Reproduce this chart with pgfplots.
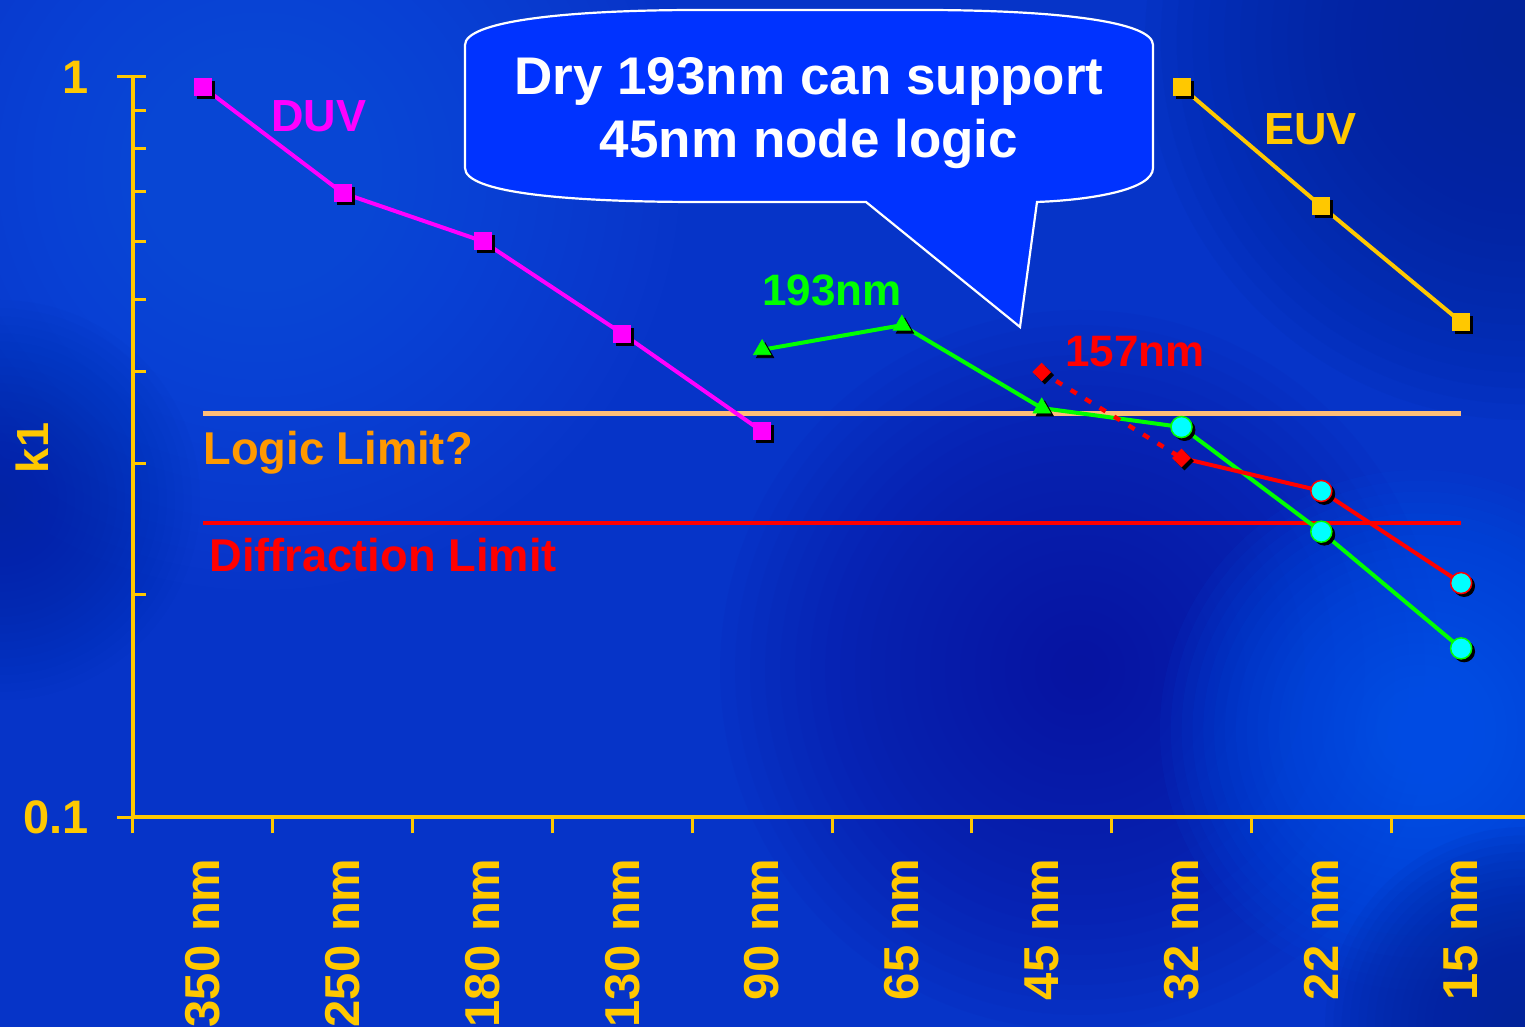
\documentclass[border=0pt]{standalone}
\usepackage{fontspec}
\setmainfont{Liberation Sans}
\usepackage{pgfplots}
\usepackage{pgfplotstable}
\pgfplotsset{compat=1.18}

\definecolor{gold}{HTML}{FFC800}
\definecolor{peach}{HTML}{FFBE78}
\definecolor{logicor}{HTML}{FF9900}
\definecolor{calloutblue}{HTML}{0033FF}
\definecolor{bgbase}{HTML}{0634C8}
\definecolor{bglight}{HTML}{1A58E6}
\definecolor{bgdark}{HTML}{0614A0}
\definecolor{bgbright}{HTML}{0058F0}
\definecolor{bgnavy}{HTML}{02239A}
\definecolor{mag}{HTML}{FF00FF}
\definecolor{grn}{HTML}{00FF00}
\definecolor{rd}{HTML}{FF0000}
\definecolor{cyn}{HTML}{00FFFF}

\newcommand{\myfs}[1]{\fontsize{#1}{#1}\selectfont\bfseries}
\newcommand{\blob}[5]{%
  \foreach \k in {1,...,24}{\fill[#1, opacity=#5] (#2,1027-#3) circle[radius={#4*\k/24}];}}

\pgfplotstableread{
x y
0 0.969
1 0.697
2 0.600
3 0.450
4 0.332
}\duv

\pgfplotstableread{
x y
4 0.428
5 0.462
6 0.357
7 0.3365
8 0.243
9 0.169
}\gline

\pgfplotstableread{
x y
7 0.3056
8 0.2758
9 0.2071
}\rline

\pgfplotstableread{
x y
7 0.969
8 0.669
9 0.4665
}\euv

\begin{document}
\begin{tikzpicture}
\path[use as bounding box] (0pt,0pt) rectangle (762.5pt,513.5pt);
\begin{scope}
\clip (0pt,0pt) rectangle (762.5pt,513.5pt);
\begin{scope}[x=0.5pt,y=0.5pt]
  \fill[bgbase] (0,0) rectangle (1525,1027);
  \blob{bglight}{260}{170}{420}{0.056}
  \blob{bglight}{350}{880}{380}{0.025}
  \blob{bgdark}{1080}{670}{360}{0.065}
  \blob{bgbright}{1420}{730}{260}{0.076}
  \blob{bgnavy}{1525}{40}{380}{0.0915}
  \blob{bgnavy}{1525}{1027}{200}{0.0915}
  \blob{bgnavy}{0}{500}{200}{0.0375}
\end{scope}

\begin{axis}[
  at={(66.5pt,105pt)}, anchor=south west,
  scale only axis, width=699pt, height=370pt,
  xmin=-0.5, xmax=9.5, ymin=0.1, ymax=1, ymode=log,
  axis x line*=bottom, axis y line*=left,
  axis line style={draw=gold, line width=1.75pt},
  tick style={draw=gold, line width=1.5pt},
  tick align=inside,
  major tick length=14.5pt, minor tick length=6.5pt,
  xtick={0,...,9},
  xticklabels={350 nm,250 nm,180 nm,130 nm,90 nm,65 nm,45 nm,32 nm,22 nm,15 nm},
  major x tick style={draw=none},
  extra x ticks={-0.5,0.5,...,9.5},
  extra x tick labels={},
  extra x tick style={major tick length=8pt, major x tick style={draw=gold, yshift=-8pt}},
  ytick={0.1,1}, yticklabels={0.1,1},
  minor ytick={0.2,0.3,0.4,0.5,0.6,0.7,0.8,0.9},
  major y tick style={xshift=-8pt},
  xticklabel style={rotate=90, anchor=east, inner sep=0pt, text=gold, font=\myfs{24.5}},
  yticklabel style={anchor=east, inner sep=0pt, text=gold, font=\myfs{23.5}},
  xticklabel shift=20.5pt, yticklabel shift=22pt,
  clip=false,
]
% limits
\addplot[peach, line width=2.5pt] coordinates {(0,0.3515) (9,0.3515)};
\addplot[rd, line width=2pt] coordinates {(0,0.25) (9,0.25)};
% lines
\addplot[grn, line width=2pt] table {\gline};
\addplot[rd, line width=2.2pt, dash pattern=on 3.5pt off 5pt] coordinates {(6,0.3993) (7,0.3056)};
\addplot[rd, line width=2pt] table {\rline};
\addplot[mag, line width=2pt] table {\duv};
\addplot[gold, line width=2pt] table {\euv};
% shadows
\addplot[only marks, mark=square*, mark size=4.25pt, black, mark options={xshift=1.5pt,yshift=-1.5pt}] table {\duv};
\addplot[only marks, mark=square*, mark size=4.25pt, black, mark options={xshift=1.5pt,yshift=-1.5pt}] table {\euv};
\addplot[only marks, mark=triangle*, mark size=5pt, black, mark options={xshift=1.5pt,yshift=-1.5pt}, restrict x to domain=4:6] table {\gline};
\addplot[only marks, mark=*, mark size=5.25pt, black, mark options={xshift=1.5pt,yshift=-1.5pt}, restrict x to domain=7:9] table {\gline};
\addplot[only marks, mark=*, mark size=5.25pt, black, mark options={xshift=1.5pt,yshift=-1.5pt}, restrict x to domain=8:9] table {\rline};
\addplot[only marks, mark=square*, mark size=3.1pt, black, mark options={xshift=1.5pt,yshift=-1.5pt,rotate=45}] coordinates {(6,0.3993) (7,0.3056)};
% marks
\addplot[only marks, mark=square*, mark size=4.25pt, mag] table {\duv};
\addplot[only marks, mark=square*, mark size=4.25pt, gold] table {\euv};
\addplot[only marks, mark=triangle*, mark size=5pt, grn, restrict x to domain=4:6] table {\gline};
\addplot[only marks, mark=*, mark size=5.25pt, mark options={fill=cyn, draw=grn, line width=0.75pt}, restrict x to domain=7:9] table {\gline};
\addplot[only marks, mark=*, mark size=5.25pt, mark options={fill=cyn, draw=rd, line width=0.75pt}, restrict x to domain=8:9] table {\rline};
\addplot[only marks, mark=square*, mark size=3.1pt, rd, mark options={rotate=45}] coordinates {(6,0.3993) (7,0.3056)};
\end{axis}

\begin{scope}[x=0.5pt,y=0.5pt]
  % callout
  \filldraw[fill=calloutblue, draw=white, line width=1.1pt, line join=miter]
    (465,1027-45) .. controls (465,1027-22) and (560,1027-10) .. (700,1027-10) -- (920,1027-10)
    .. controls (1060,1027-10) and (1153,1027-22) .. (1153,1027-45) -- (1153,1027-168)
    .. controls (1153,1027-190) and (1090,1027-200) .. (1037,1027-202) -- (1020,1027-327) -- (866,1027-202)
    -- (700,1027-202) .. controls (560,1027-202) and (465,1027-192) .. (465,1027-168) -- cycle;
  \node[align=center, text=white, font=\fontsize{26.5}{31.5}\selectfont\bfseries] at (809,1027-113)
    {Dry 193nm can support\\45nm node logic};
  % labels
  \node[anchor=base west, inner sep=0pt, text=mag, font=\myfs{22.5}] at (271,1027-132) {DUV};
  \node[anchor=base west, inner sep=0pt, text=grn, font=\myfs{22}] at (762,1027-306) {193nm};
  \node[anchor=base west, inner sep=0pt, text=rd, font=\myfs{22}] at (1065,1027-367) {157nm};
  \node[anchor=base west, inner sep=0pt, text=gold, font=\myfs{22.5}] at (1264,1027-145) {EUV};
  \node[anchor=base west, inner sep=0pt, text=logicor, font=\myfs{23}] at (203,1027-465) {\scalebox{0.985}[1]{Logic Limit?}};
  \node[anchor=base west, inner sep=0pt, text=rd, font=\myfs{23}] at (209,1027-572) {\scalebox{0.985}[1]{Diffraction Limit}};
  \node[rotate=90, inner sep=0pt, text=gold, font=\myfs{22.5}] at (32,1027-448) {k1};
\end{scope}
\end{scope}
\end{tikzpicture}
\end{document}
